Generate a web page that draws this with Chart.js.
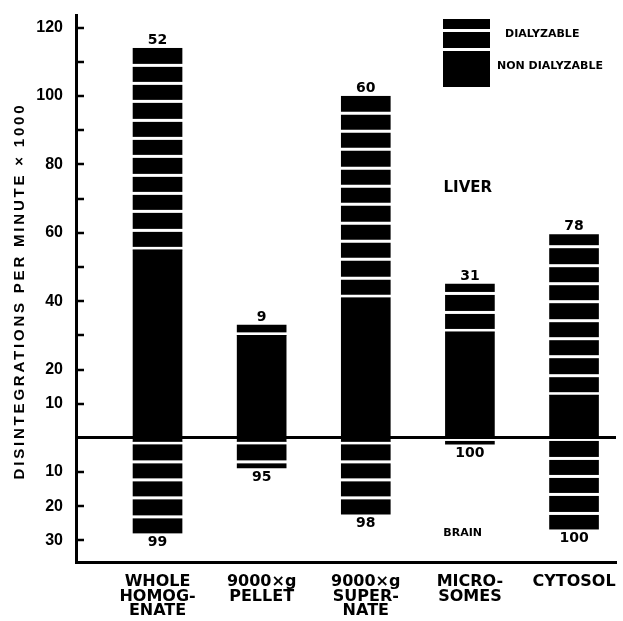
<!DOCTYPE html>
<html><head><meta charset="utf-8">
<script src="https://cdn.jsdelivr.net/npm/chart.js@4/dist/chart.umd.min.js"></script>
<style>html,body{margin:0;padding:0;background:#fff;} canvas{display:block;}</style>
</head><body>
<canvas id="c" width="623" height="621"></canvas>
<script>
// ---- data ----
const categories = [['WHOLE','HOMOG-','ENATE'], ['9000×g','PELLET'], ['9000×g','SUPER-','NATE'], ['MICRO-','SOMES'], ['CYTOSOL']];
const liverTotal = [114, 33, 100, 45, 59.5];
const liverNonDialyzable = [55, 30, 41, 31, 12.5];
const brainTotal = [28, 8.8, 22.3, 1.8, 26.7];
const brainNonDialyzable = [1, 1, 1, 0, 0];
const liverPercentDialyzable = ['52', '9', '60', '31', '78'];
const brainPercentDialyzable = ['99', '95', '98', '100', '100'];
const yTickValues = [-30, -20, -10, 0, 10, 20, 30, 40, 50, 60, 70, 80, 90, 100, 110, 120];
const yTickLabelled = [-30, -20, -10, 10, 20, 40, 60, 80, 100, 120];
const seriesNames = ['DIALYZABLE', 'NON DIALYZABLE'];

// ---- build datasets from the arrays ----
const dialData = [];
const nonDialData = [];
categories.forEach((c, i) => {
  dialData.push({x: i + 1, y: [liverNonDialyzable[i], liverTotal[i]]});
  nonDialData.push({x: i + 1, y: [0, liverNonDialyzable[i]]});
});
categories.forEach((c, i) => {
  dialData.push({x: i + 1, y: [-brainNonDialyzable[i], -brainTotal[i]]});
  nonDialData.push({x: i + 1, y: brainNonDialyzable[i] ? [0, -brainNonDialyzable[i]] : null});
});

// stripe tile: black 15px / white 3px, period ~18.3px
const tile = document.createElement('canvas');
tile.width = 8; tile.height = 55;
const tctx = tile.getContext('2d');
tctx.fillStyle = '#000';
tctx.fillRect(0, 0, 8, 15);
tctx.fillRect(0, 18, 8, 16);
tctx.fillRect(0, 37, 8, 15);

function stripeFill(ctx) {
  const chart = ctx.chart;
  const ys = chart.scales && chart.scales.y;
  if (ctx.type !== 'data' || !ys || !ctx.raw || !ctx.raw.y) return '#000';
  const r = ctx.raw.y;
  const nearZero = Math.abs(r[0]) < Math.abs(r[1]) ? r[0] : r[1];
  const base = ys.getPixelForValue(nearZero);
  const positive = (r[0] + r[1]) > 0;
  const pat = chart.ctx.createPattern(tile, 'repeat');
  pat.setTransform(new DOMMatrix().translate(0, positive ? base : base - 15));
  return pat;
}

function noPad(s) {
  s.paddingLeft = 0; s.paddingRight = 0; s.paddingTop = 0; s.paddingBottom = 0;
}

const annotations = {
  id: 'annotations',
  afterDatasetsDraw(chart) {
    const ctx = chart.ctx;
    const meta = chart.getDatasetMeta(0);
    const n = categories.length;
    ctx.save();
    ctx.fillStyle = '#000';
    ctx.textAlign = 'center';
    ctx.textBaseline = 'middle';
    ctx.font = 'bold 14px "DejaVu Sans"';
    for (let i = 0; i < n; i++) {
      const a = meta.data[i];
      ctx.fillText(liverPercentDialyzable[i], a.x, Math.min(a.y, a.base) - 8);
      const b = meta.data[i + n];
      ctx.fillText(brainPercentDialyzable[i], b.x, Math.max(b.y, b.base) + 9);
    }
    const xs = chart.scales.x, ys = chart.scales.y;
    ctx.font = 'bold 15px "DejaVu Sans"';
    ctx.fillText('LIVER', xs.getPixelForValue(3.98), ys.getPixelForValue(73));
    ctx.font = 'bold 11px "DejaVu Sans"';
    ctx.fillText('BRAIN', xs.getPixelForValue(3.93), ys.getPixelForValue(-27.8));
    ctx.restore();
  },
  afterDraw(chart) {
    const ctx = chart.ctx;
    ctx.save();
    // legend
    ctx.fillStyle = '#000';
    ctx.fillRect(443, 19, 47, 10);
    ctx.fillRect(443, 32, 47, 16);
    ctx.fillRect(443, 51, 47, 36);
    ctx.font = 'bold 11px "DejaVu Sans"';
    ctx.textAlign = 'left';
    ctx.textBaseline = 'middle';
    ctx.fillText(seriesNames[0], 505, 34);
    ctx.fillText(seriesNames[1], 497, 66);
    // y axis title
    ctx.translate(20, 291);
    ctx.rotate(-Math.PI / 2);
    ctx.font = 'bold 15px "Liberation Sans"';
    ctx.letterSpacing = '2.8px';
    ctx.textAlign = 'center';
    ctx.fillText('DISINTEGRATIONS PER MINUTE × 1000', 0, 0);
    ctx.restore();
  }
};

new Chart(document.getElementById('c'), {
  type: 'bar',
  data: {
    datasets: [
      {label: seriesNames[0], data: dialData, backgroundColor: stripeFill, grouped: false, barThickness: 49, borderWidth: 0},
      {label: seriesNames[1], data: nonDialData, backgroundColor: '#000', grouped: false, barThickness: 49, borderWidth: 0}
    ]
  },
  options: {
    responsive: false,
    animation: false,
    devicePixelRatio: 1,
    layout: {padding: {top: 15, right: 7, left: 0, bottom: 0}},
    plugins: {legend: {display: false}, tooltip: {enabled: false}},
    scales: {
      x: {
        type: 'linear', min: 0.217, max: 5.403, offset: false,
        afterBuildTicks: s => { s.ticks = categories.map((_, i) => ({value: i + 1})); },
        afterFit: s => { s.height = 59; noPad(s); },
        border: {display: true, color: '#000', width: 3},
        grid: {drawOnChartArea: false, drawTicks: false, offset: false},
        ticks: {
          autoSkip: false, maxRotation: 0, padding: 13, color: '#000',
          font: {family: 'DejaVu Sans', weight: 'bold', size: 16, lineHeight: 0.9},
          callback: v => categories[v - 1] || ''
        }
      },
      y: {
        type: 'linear', min: -36.3, max: 123.7,
        afterBuildTicks: s => { s.ticks = yTickValues.map(v => ({value: v})); },
        afterFit: s => { s.width = 76; noPad(s); },
        border: {display: true, color: '#000', width: 3},
        grid: {
          drawOnChartArea: true, drawTicks: true, tickLength: -8,
          color: c => (c.tick && c.tick.value === 0) ? '#000' : 'rgba(0,0,0,0)',
          lineWidth: c => (c.tick && c.tick.value === 0) ? 3 : 0,
          tickColor: '#000', tickWidth: 2.5
        },
        ticks: {
          padding: 21, color: '#000',
          font: {family: 'Liberation Sans', weight: 'bold', size: 16},
          callback: v => yTickLabelled.includes(v) ? String(Math.abs(v)) : ''
        }
      }
    }
  },
  plugins: [annotations]
});
</script>
</body></html>
